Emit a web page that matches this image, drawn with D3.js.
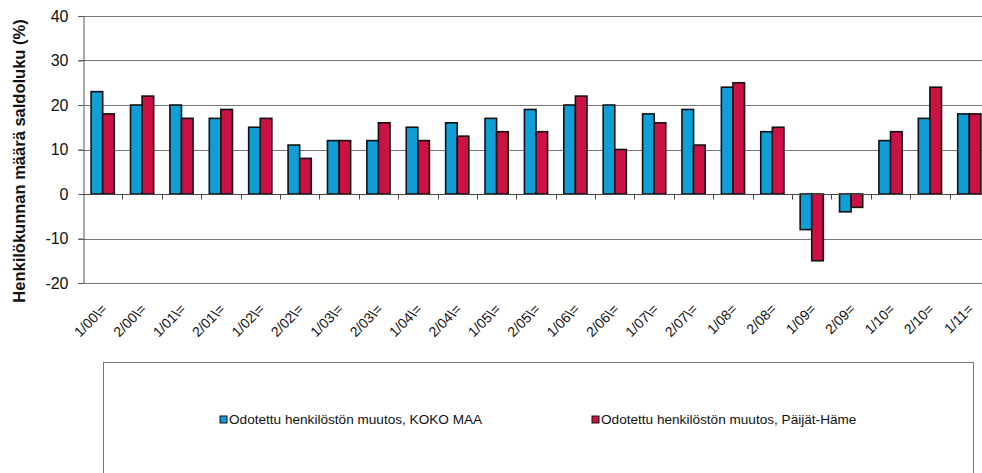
<!DOCTYPE html>
<meta charset="utf-8">
<title>Henkilökunnan määrä</title>
<style>
    body { margin: 0; background: #fff; }
    svg { display: block; font-family: Arial, "Liberation Sans", sans-serif; }
    .grid line { stroke: #777; stroke-width: 1; }
    .bars rect { stroke: #111; stroke-width: 1.6; }
</style>
<svg width="982" height="473"></svg>
<script src="https://d3js.org/d3.v7.min.js"></script>
<script>

    var categories = ["1/00\\=", "2/00\\=", "1/01\\=", "2/01\\=", "1/02\\=", "2/02\\=", "1/03\\=", "2/03\\=",
        "1/04\\=", "2/04\\=", "1/05\\=", "2/05\\=", "1/06\\=", "2/06\\=", "1/07\\=", "2/07\\=",
        "1/08=", "2/08=", "1/09=", "2/09=", "1/10=", "2/10=", "1/11="];

    var seriesNames = ["Odotettu henkilöstön muutos, KOKO MAA", "Odotettu henkilöstön muutos, Päijät-Häme"];
    var seriesColors = ["#0f9fd8", "#cc1244"];

    var kokoMaa = [23, 20, 20, 17, 15, 11, 12, 12, 15, 16, 17, 19, 20, 20, 18, 19, 24, 14, -8, -4, 12, 17, 18];
    var paijatHame = [18, 22, 17, 19, 17, 8, 12, 16, 12, 13, 14, 14, 22, 10, 16, 11, 25, 15, -15, -3, 14, 24, 18];

    var yTicks = [-20, -10, 0, 10, 20, 30, 40];

    var svg = d3.select("svg"),
        width = +svg.attr("width"),
        height = +svg.attr("height");

    // plot area (right edge runs past the picture, like the original)
    var plotLeft = 83, plotTop = 16, plotBottom = 283, plotRight = 989;

    var x = d3.scaleBand().domain(categories).range([plotLeft, plotRight]).padding(0);
    var xs = d3.scaleBand().domain([0, 1]).range([0, x.bandwidth()]).paddingInner(0).paddingOuter(0.7);
    var y = d3.scaleLinear().domain([-20, 40]).range([plotBottom, plotTop]);

    // gridlines (not at zero, the axis draws that)
    svg.append("g")
        .attr("class", "grid")
        .selectAll("line")
        .data(yTicks.filter(function (d) { return d !== 0; }))
        .enter().append("line")
        .attr("x1", plotLeft - 5)
        .attr("x2", width)
        .attr("y1", function (d) { return Math.round(y(d)) + 0.5; })
        .attr("y2", function (d) { return Math.round(y(d)) + 0.5; });

    // y axis
    var yAxis = svg.append("g")
        .attr("transform", "translate(" + (plotLeft + 0.5) + ",0)")
        .call(d3.axisLeft(y).tickValues(yTicks).tickFormat(String).tickSize(5).tickPadding(10));
    yAxis.select(".domain").attr("stroke", "#555");
    yAxis.selectAll(".tick line").attr("stroke", "#555");
    yAxis.selectAll("text")
        .attr("font-size", 16)
        .attr("fill", "#111")
        .attr("font-family", "Arial, 'Liberation Sans', sans-serif");

    // bars
    var data = categories.map(function (c, i) { return { cat: c, vals: [kokoMaa[i], paijatHame[i]] }; });

    var groups = svg.append("g")
        .attr("class", "bars")
        .selectAll("g")
        .data(data)
        .enter().append("g")
        .attr("transform", function (d) { return "translate(" + x(d.cat) + ",0)"; });

    groups.selectAll("rect")
        .data(function (d) { return d.vals.map(function (v, k) { return { v: v, k: k }; }); })
        .enter().append("rect")
        .attr("x", function (d) { return xs(d.k); })
        .attr("width", xs.bandwidth())
        .attr("y", function (d) { return y(Math.max(0, d.v)); })
        .attr("height", function (d) { return Math.abs(y(d.v) - y(0)); })
        .attr("fill", function (d) { return seriesColors[d.k]; });

    // zero axis with category ticks
    var xAxis = svg.append("g")
        .attr("transform", "translate(0," + (Math.round(y(0)) + 0.5) + ")");
    xAxis.append("line")
        .attr("x1", plotLeft).attr("x2", width)
        .attr("stroke", "#444");
    xAxis.selectAll(".ctick")
        .data(categories.slice(1))
        .enter().append("line")
        .attr("class", "ctick")
        .attr("x1", function (d) { return Math.round(x(d)) + 0.5; })
        .attr("x2", function (d) { return Math.round(x(d)) + 0.5; })
        .attr("y1", 0).attr("y2", 5)
        .attr("stroke", "#444");

    // category labels
    svg.append("g")
        .selectAll("text")
        .data(categories)
        .enter().append("text")
        .attr("transform", function (d) {
            return "translate(" + (x(d) + x.bandwidth() / 2 + 5) + "," + (plotBottom + 27) + ") rotate(-45)";
        })
        .attr("text-anchor", "end")
        .attr("font-size", 14)
        .attr("fill", "#111")
        .text(function (d) { return d; });

    // y title
    svg.append("text")
        .attr("transform", "translate(25," + 161 + ") rotate(-90)")
        .attr("text-anchor", "middle")
        .attr("font-size", 16.5)
        .attr("font-weight", "bold")
        .attr("fill", "#111")
        .text("Henkilökunnan määrä saldoluku (%)");

    // legend box
    svg.append("rect")
        .attr("x", 103.5).attr("y", 362.5)
        .attr("width", 870).attr("height", 140)
        .attr("fill", "none")
        .attr("stroke", "#777");

    var legendX = [220, 592];
    var legend = svg.append("g")
        .selectAll("g")
        .data(seriesNames)
        .enter().append("g")
        .attr("transform", function (d, i) { return "translate(" + legendX[i] + ",420)"; });

    legend.append("rect")
        .attr("x", 0).attr("y", -4)
        .attr("width", 7).attr("height", 7)
        .attr("fill", function (d, i) { return seriesColors[i]; })
        .attr("stroke", "#111")
        .attr("stroke-width", 1);

    legend.append("text")
        .attr("x", 9)
        .attr("y", 4)
        .attr("font-size", 13.6)
        .attr("fill", "#111")
        .text(function (d) { return d; });

</script>
